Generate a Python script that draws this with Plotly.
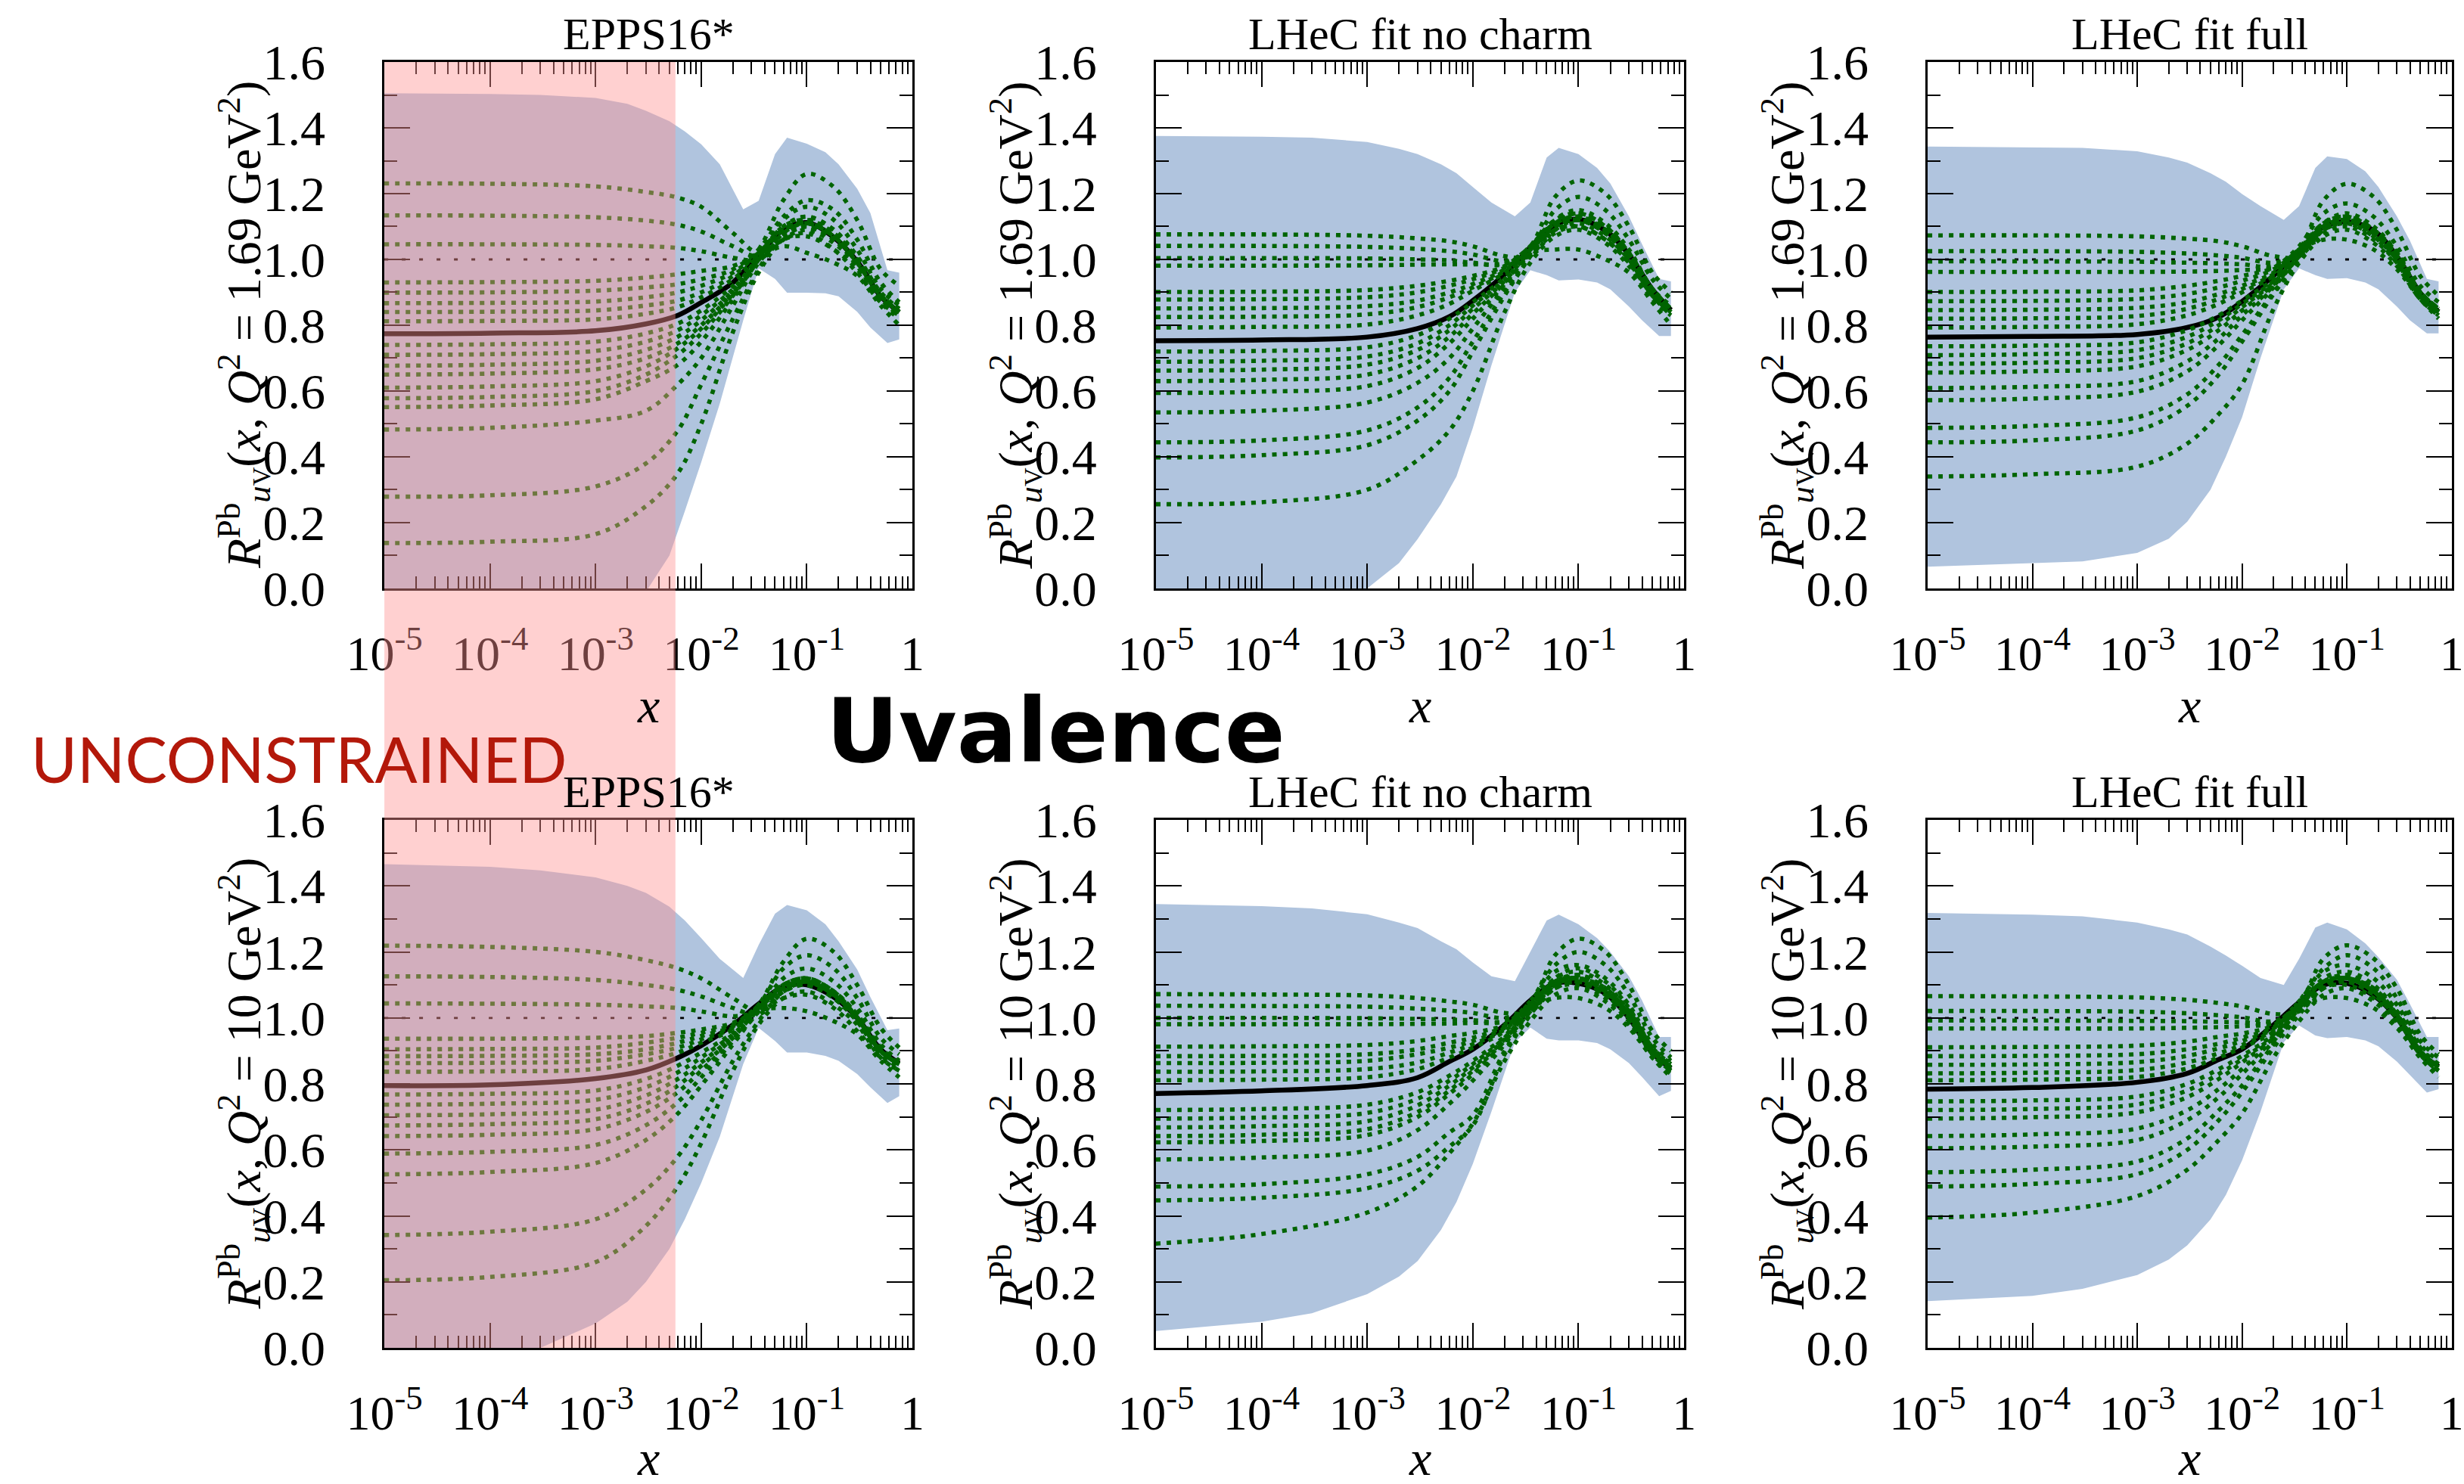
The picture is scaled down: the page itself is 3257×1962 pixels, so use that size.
import plotly.graph_objects as go

# ---------------- data ----------------
X = [1e-5, 1e-4, 1e-3, 3e-3, 6e-3, 1e-2, 2e-2, 3.5e-2, 6e-2, 0.1, 0.18, 0.3, 0.5, 0.75]
BX = [1e-5, 1e-4, 3e-4, 1e-3, 2e-3, 3e-3, 5e-3, 7e-3, 1e-2, 1.5e-2, 2.5e-2, 3.5e-2,
      5e-2, 6.5e-2, 0.1, 0.15, 0.2, 0.3, 0.4, 0.58, 0.75]
UNITY_X = [1e-5, 0.75]
UNITY_Y = [1.0, 1.0]
PINK_XMAX = 5.7e-3

XTICKS = [1e-5, 1e-4, 1e-3, 1e-2, 1e-1, 1]
XTICKTEXT = ["10<sup>-5</sup>", "10<sup>-4</sup>", "10<sup>-3</sup>",
             "10<sup>-2</sup>", "10<sup>-1</sup>", "1"]
YTICKS = [0.0, 0.2, 0.4, 0.6, 0.8, 1.0, 1.2, 1.4, 1.6]
YTICKTEXT = ["0.0", "0.2", "0.4", "0.6", "0.8", "1.0", "1.2", "1.4", "1.6"]

TITLES = ["EPPS16*", "LHeC fit no charm", "LHeC fit full"]
Q2_LABELS = ["1.69", "10"]

# --- top-left: EPPS16*, Q2 = 1.69 ---
TL_UP = [1.505, 1.503, 1.500, 1.491, 1.473, 1.452, 1.420, 1.389, 1.350, 1.289, 1.152, 1.178,
         1.320, 1.370, 1.352, 1.326, 1.289, 1.215, 1.141, 0.967, 0.960]
TL_LO = [-0.30, -0.30, -0.28, -0.20, -0.10, -0.01, 0.10, 0.235, 0.383, 0.562, 0.815, 0.973,
         0.941, 0.899, 0.899, 0.897, 0.888, 0.841, 0.793, 0.746, 0.757]
TL_C = [0.774, 0.776, 0.783, 0.804, 0.830, 0.869, 0.930, 1.015, 1.090, 1.112, 1.067, 0.994, 0.888, 0.840]
TL_G = [
    [1.231, 1.230, 1.222, 1.205, 1.188, 1.160, 1.080, 1.020, 1.070, 1.100, 1.060, 0.990, 0.890, 0.840],
    [1.134, 1.133, 1.128, 1.118, 1.105, 1.085, 1.040, 1.010, 1.080, 1.120, 1.080, 1.000, 0.890, 0.840],
    [1.046, 1.046, 1.044, 1.040, 1.035, 1.025, 1.005, 1.000, 1.060, 1.080, 1.030, 0.960, 0.870, 0.830],
    [0.930, 0.931, 0.935, 0.945, 0.955, 0.965, 0.980, 1.020, 1.100, 1.130, 1.090, 1.010, 0.900, 0.850],
    [0.899, 0.900, 0.905, 0.915, 0.925, 0.940, 0.970, 1.030, 1.130, 1.180, 1.150, 1.060, 0.930, 0.870],
    [0.867, 0.868, 0.872, 0.885, 0.900, 0.920, 0.960, 1.020, 1.090, 1.110, 1.070, 0.990, 0.890, 0.840],
    [0.840, 0.841, 0.845, 0.860, 0.875, 0.900, 0.950, 1.030, 1.180, 1.260, 1.220, 1.120, 0.970, 0.920],
    [0.812, 0.813, 0.818, 0.835, 0.855, 0.885, 0.940, 1.010, 1.080, 1.100, 1.060, 0.990, 0.880, 0.840],
    [0.740, 0.742, 0.750, 0.775, 0.805, 0.845, 0.920, 1.010, 1.090, 1.110, 1.070, 0.990, 0.890, 0.840],
    [0.710, 0.712, 0.722, 0.750, 0.785, 0.830, 0.910, 1.000, 1.040, 1.020, 0.990, 0.950, 0.860, 0.800],
    [0.677, 0.680, 0.692, 0.725, 0.765, 0.815, 0.905, 1.010, 1.100, 1.120, 1.080, 1.000, 0.890, 0.840],
    [0.650, 0.653, 0.666, 0.700, 0.745, 0.800, 0.900, 1.010, 1.100, 1.130, 1.090, 1.000, 0.890, 0.840],
    [0.610, 0.614, 0.630, 0.675, 0.730, 0.790, 0.895, 1.000, 1.080, 1.100, 1.060, 0.980, 0.880, 0.830],
    [0.578, 0.582, 0.600, 0.650, 0.710, 0.775, 0.890, 1.000, 1.120, 1.160, 1.120, 1.030, 0.910, 0.860],
    [0.551, 0.556, 0.575, 0.630, 0.680, 0.750, 0.880, 1.000, 1.090, 1.110, 1.070, 0.990, 0.890, 0.840],
    [0.483, 0.488, 0.510, 0.540, 0.620, 0.700, 0.860, 0.990, 1.060, 1.070, 1.030, 0.970, 0.870, 0.820],
    [0.279, 0.283, 0.310, 0.380, 0.480, 0.620, 0.820, 0.970, 1.080, 1.110, 1.070, 0.990, 0.890, 0.850],
    [0.138, 0.142, 0.165, 0.250, 0.350, 0.500, 0.780, 0.960, 1.060, 1.090, 1.050, 0.980, 0.880, 0.840],
]

# --- top-middle: LHeC no charm, Q2 = 1.69 ---
TM_UP = [1.375, 1.373, 1.370, 1.357, 1.336, 1.320, 1.289, 1.262, 1.220, 1.173, 1.131, 1.173,
         1.310, 1.339, 1.320, 1.278, 1.231, 1.131, 1.046, 0.941, 0.933]
TM_LO = [-0.30, -0.20, -0.10, 0.00, 0.077, 0.150, 0.256, 0.340, 0.488, 0.678, 0.900, 0.967,
         0.952, 0.936, 0.939, 0.930, 0.909, 0.857, 0.815, 0.767, 0.767]
TM_C = [0.753, 0.755, 0.764, 0.790, 0.826, 0.875, 0.955, 1.036, 1.105, 1.122, 1.088, 1.015, 0.909, 0.846]
TM_G = [
    [1.076, 1.076, 1.072, 1.064, 1.055, 1.040, 1.010, 1.010, 1.090, 1.120, 1.080, 1.010, 0.900, 0.840],
    [1.041, 1.041, 1.038, 1.032, 1.025, 1.015, 0.995, 1.020, 1.110, 1.140, 1.100, 1.020, 0.910, 0.850],
    [1.004, 1.004, 1.003, 1.000, 0.997, 0.990, 0.985, 1.030, 1.100, 1.120, 1.080, 1.010, 0.900, 0.850],
    [0.981, 0.981, 0.982, 0.984, 0.985, 0.985, 0.990, 1.040, 1.190, 1.240, 1.200, 1.100, 0.960, 0.900],
    [0.901, 0.902, 0.907, 0.920, 0.935, 0.950, 0.980, 1.040, 1.120, 1.140, 1.100, 1.020, 0.910, 0.850],
    [0.878, 0.879, 0.885, 0.900, 0.920, 0.940, 0.975, 1.030, 1.150, 1.190, 1.150, 1.060, 0.940, 0.880],
    [0.851, 0.852, 0.858, 0.875, 0.900, 0.925, 0.970, 1.040, 1.110, 1.130, 1.090, 1.020, 0.910, 0.850],
    [0.825, 0.826, 0.833, 0.855, 0.885, 0.915, 0.965, 1.040, 1.110, 1.120, 1.090, 1.010, 0.900, 0.850],
    [0.793, 0.795, 0.802, 0.830, 0.865, 0.905, 0.960, 1.030, 1.090, 1.100, 1.060, 0.990, 0.890, 0.830],
    [0.720, 0.722, 0.733, 0.770, 0.820, 0.870, 0.945, 1.030, 1.110, 1.130, 1.090, 1.010, 0.900, 0.850],
    [0.689, 0.692, 0.705, 0.745, 0.800, 0.860, 0.940, 1.020, 1.030, 1.030, 1.000, 0.960, 0.870, 0.800],
    [0.662, 0.665, 0.680, 0.725, 0.785, 0.850, 0.935, 1.030, 1.110, 1.130, 1.090, 1.010, 0.900, 0.850],
    [0.630, 0.634, 0.650, 0.700, 0.765, 0.835, 0.930, 1.030, 1.100, 1.120, 1.080, 1.000, 0.900, 0.840],
    [0.594, 0.598, 0.615, 0.670, 0.745, 0.820, 0.925, 1.020, 1.090, 1.110, 1.070, 1.000, 0.890, 0.840],
    [0.535, 0.540, 0.565, 0.625, 0.700, 0.790, 0.915, 1.020, 1.100, 1.120, 1.080, 1.000, 0.900, 0.850],
    [0.444, 0.450, 0.480, 0.550, 0.640, 0.750, 0.900, 1.010, 1.080, 1.100, 1.060, 0.990, 0.890, 0.840],
    [0.398, 0.405, 0.435, 0.510, 0.600, 0.720, 0.890, 1.010, 1.120, 1.150, 1.110, 1.030, 0.910, 0.860],
    [0.256, 0.262, 0.300, 0.390, 0.480, 0.600, 0.840, 0.990, 1.070, 1.090, 1.050, 0.980, 0.880, 0.830],
]

# --- top-right: LHeC full, Q2 = 1.69 ---
TR_UP = [1.343, 1.341, 1.339, 1.329, 1.310, 1.294, 1.262, 1.236, 1.199, 1.162, 1.120, 1.162,
         1.278, 1.313, 1.305, 1.268, 1.220, 1.131, 1.057, 0.941, 0.933]
TR_LO = [0.066, 0.077, 0.082, 0.108, 0.151, 0.203, 0.300, 0.400, 0.520, 0.700, 0.909, 0.973,
         0.952, 0.941, 0.943, 0.930, 0.909, 0.857, 0.815, 0.775, 0.775]
TR_C = [0.764, 0.766, 0.772, 0.793, 0.825, 0.872, 0.951, 1.025, 1.099, 1.115, 1.088, 1.010, 0.899, 0.841]
TR_G = [
    [1.073, 1.073, 1.070, 1.063, 1.055, 1.040, 1.010, 1.010, 1.090, 1.120, 1.080, 1.010, 0.900, 0.840],
    [1.025, 1.025, 1.023, 1.018, 1.012, 1.005, 0.990, 1.020, 1.100, 1.130, 1.090, 1.020, 0.900, 0.850],
    [0.994, 0.994, 0.993, 0.990, 0.988, 0.985, 0.980, 1.030, 1.180, 1.230, 1.190, 1.090, 0.950, 0.890],
    [0.962, 0.962, 0.962, 0.963, 0.965, 0.968, 0.975, 1.030, 1.110, 1.130, 1.090, 1.010, 0.900, 0.850],
    [0.901, 0.902, 0.906, 0.920, 0.935, 0.950, 0.975, 1.040, 1.140, 1.170, 1.130, 1.040, 0.920, 0.870],
    [0.873, 0.874, 0.880, 0.895, 0.915, 0.935, 0.970, 1.030, 1.100, 1.120, 1.080, 1.010, 0.900, 0.850],
    [0.846, 0.847, 0.853, 0.870, 0.895, 0.920, 0.960, 1.030, 1.110, 1.130, 1.090, 1.010, 0.900, 0.850],
    [0.820, 0.821, 0.828, 0.850, 0.880, 0.910, 0.955, 1.030, 1.060, 1.060, 1.030, 0.970, 0.880, 0.820],
    [0.793, 0.795, 0.803, 0.830, 0.865, 0.900, 0.950, 1.020, 1.100, 1.120, 1.080, 1.000, 0.890, 0.840],
    [0.736, 0.738, 0.748, 0.785, 0.830, 0.875, 0.940, 1.020, 1.100, 1.120, 1.080, 1.000, 0.890, 0.840],
    [0.709, 0.712, 0.724, 0.765, 0.815, 0.865, 0.935, 1.020, 1.110, 1.130, 1.090, 1.010, 0.900, 0.850],
    [0.683, 0.686, 0.700, 0.745, 0.800, 0.855, 0.930, 1.010, 1.090, 1.110, 1.070, 1.000, 0.890, 0.840],
    [0.656, 0.660, 0.675, 0.725, 0.785, 0.845, 0.925, 1.010, 1.090, 1.110, 1.070, 0.990, 0.890, 0.840],
    [0.609, 0.613, 0.630, 0.690, 0.760, 0.830, 0.920, 1.010, 1.100, 1.120, 1.080, 1.000, 0.890, 0.840],
    [0.572, 0.577, 0.598, 0.660, 0.740, 0.815, 0.915, 1.010, 1.090, 1.110, 1.070, 1.000, 0.890, 0.840],
    [0.488, 0.494, 0.520, 0.590, 0.680, 0.770, 0.900, 1.000, 1.080, 1.100, 1.060, 0.990, 0.880, 0.830],
    [0.444, 0.450, 0.480, 0.555, 0.650, 0.750, 0.895, 1.000, 1.110, 1.140, 1.100, 1.020, 0.900, 0.850],
    [0.340, 0.347, 0.370, 0.440, 0.530, 0.620, 0.850, 0.990, 1.070, 1.090, 1.050, 0.980, 0.880, 0.830],
]

# --- bottom-left: EPPS16*, Q2 = 10 ---
BL_UP = [1.466, 1.458, 1.447, 1.426, 1.400, 1.379, 1.337, 1.295, 1.242, 1.179, 1.121, 1.221,
         1.316, 1.342, 1.326, 1.284, 1.232, 1.147, 1.063, 0.963, 0.968]
BL_LO = [-0.30, -0.10, 0.00, 0.074, 0.140, 0.200, 0.300, 0.390, 0.500, 0.640, 0.860, 0.970,
         0.930, 0.895, 0.895, 0.885, 0.870, 0.830, 0.790, 0.742, 0.763]
BL_C = [0.795, 0.797, 0.816, 0.842, 0.879, 0.916, 0.979, 1.042, 1.095, 1.100, 1.063, 1.000, 0.905, 0.863]
BL_G = [
    [1.219, 1.215, 1.200, 1.175, 1.150, 1.120, 1.060, 1.020, 1.080, 1.100, 1.060, 0.990, 0.900, 0.860],
    [1.126, 1.124, 1.115, 1.100, 1.085, 1.065, 1.030, 1.010, 1.080, 1.110, 1.070, 1.000, 0.900, 0.860],
    [1.044, 1.043, 1.040, 1.035, 1.030, 1.020, 1.005, 1.020, 1.060, 1.070, 1.030, 0.960, 0.880, 0.840],
    [0.937, 0.937, 0.940, 0.945, 0.955, 0.965, 0.985, 1.030, 1.100, 1.120, 1.080, 1.010, 0.910, 0.870],
    [0.905, 0.906, 0.910, 0.925, 0.940, 0.955, 0.980, 1.040, 1.150, 1.190, 1.150, 1.060, 0.940, 0.890],
    [0.884, 0.885, 0.890, 0.905, 0.925, 0.945, 0.975, 1.030, 1.090, 1.110, 1.070, 1.000, 0.900, 0.860],
    [0.863, 0.864, 0.870, 0.890, 0.910, 0.935, 0.970, 1.040, 1.170, 1.240, 1.200, 1.100, 0.970, 0.910],
    [0.837, 0.838, 0.845, 0.870, 0.895, 0.925, 0.965, 1.030, 1.100, 1.110, 1.070, 1.000, 0.900, 0.860],
    [0.768, 0.770, 0.780, 0.815, 0.855, 0.895, 0.955, 1.030, 1.090, 1.110, 1.070, 1.000, 0.900, 0.860],
    [0.737, 0.740, 0.752, 0.790, 0.835, 0.880, 0.950, 1.020, 1.030, 1.020, 0.990, 0.950, 0.870, 0.820],
    [0.705, 0.708, 0.722, 0.765, 0.815, 0.865, 0.945, 1.030, 1.100, 1.120, 1.080, 1.000, 0.900, 0.860],
    [0.674, 0.678, 0.693, 0.740, 0.795, 0.855, 0.940, 1.030, 1.100, 1.120, 1.080, 1.010, 0.910, 0.860],
    [0.642, 0.646, 0.663, 0.715, 0.775, 0.840, 0.935, 1.020, 1.090, 1.100, 1.060, 0.990, 0.890, 0.850],
    [0.589, 0.594, 0.615, 0.675, 0.745, 0.820, 0.930, 1.020, 1.120, 1.150, 1.110, 1.030, 0.920, 0.870],
    [0.526, 0.533, 0.560, 0.630, 0.710, 0.795, 0.920, 1.020, 1.090, 1.110, 1.070, 1.000, 0.900, 0.860],
    [0.342, 0.352, 0.390, 0.480, 0.580, 0.690, 0.870, 0.990, 1.080, 1.100, 1.060, 0.990, 0.890, 0.850],
    [0.205, 0.215, 0.260, 0.370, 0.490, 0.620, 0.840, 0.980, 1.060, 1.080, 1.040, 0.980, 0.880, 0.840],
]

# --- bottom-middle: LHeC no charm, Q2 = 10 ---
BM_UP = [1.345, 1.339, 1.332, 1.314, 1.289, 1.272, 1.232, 1.208, 1.168, 1.126, 1.111, 1.200,
         1.295, 1.313, 1.284, 1.242, 1.200, 1.126, 1.053, 0.942, 0.942]
BM_LO = [0.051, 0.079, 0.105, 0.163, 0.216, 0.263, 0.358, 0.442, 0.558, 0.716, 0.926, 0.971,
         0.937, 0.932, 0.932, 0.924, 0.905, 0.863, 0.821, 0.763, 0.779]
BM_C = [0.771, 0.779, 0.795, 0.819, 0.868, 0.905, 0.979, 1.053, 1.105, 1.105, 1.074, 1.000, 0.895, 0.847]
BM_G = [
    [1.072, 1.071, 1.068, 1.060, 1.050, 1.040, 1.015, 1.020, 1.090, 1.110, 1.080, 1.010, 0.900, 0.850],
    [1.037, 1.036, 1.034, 1.028, 1.022, 1.015, 1.000, 1.030, 1.100, 1.130, 1.090, 1.020, 0.910, 0.860],
    [1.000, 1.000, 0.999, 0.997, 0.995, 0.993, 0.990, 1.040, 1.190, 1.240, 1.200, 1.100, 0.960, 0.900],
    [0.981, 0.981, 0.981, 0.982, 0.983, 0.985, 0.990, 1.040, 1.110, 1.130, 1.090, 1.020, 0.910, 0.850],
    [0.913, 0.914, 0.918, 0.930, 0.945, 0.955, 0.980, 1.050, 1.140, 1.160, 1.120, 1.040, 0.920, 0.870],
    [0.884, 0.885, 0.890, 0.905, 0.925, 0.940, 0.975, 1.040, 1.110, 1.120, 1.090, 1.010, 0.900, 0.850],
    [0.863, 0.864, 0.870, 0.890, 0.910, 0.930, 0.970, 1.050, 1.160, 1.200, 1.160, 1.070, 0.940, 0.880],
    [0.837, 0.838, 0.845, 0.865, 0.895, 0.920, 0.965, 1.040, 1.110, 1.120, 1.080, 1.010, 0.900, 0.850],
    [0.811, 0.813, 0.820, 0.845, 0.880, 0.910, 0.960, 1.040, 1.110, 1.120, 1.080, 1.000, 0.890, 0.840],
    [0.721, 0.724, 0.737, 0.775, 0.825, 0.870, 0.945, 1.030, 1.060, 1.060, 1.030, 0.970, 0.880, 0.820],
    [0.695, 0.698, 0.712, 0.755, 0.810, 0.860, 0.940, 1.030, 1.110, 1.120, 1.080, 1.010, 0.900, 0.850],
    [0.668, 0.672, 0.687, 0.735, 0.795, 0.850, 0.935, 1.030, 1.100, 1.120, 1.080, 1.000, 0.890, 0.840],
    [0.642, 0.646, 0.663, 0.715, 0.780, 0.840, 0.930, 1.020, 1.100, 1.110, 1.070, 1.000, 0.890, 0.840],
    [0.623, 0.627, 0.645, 0.700, 0.770, 0.830, 0.930, 1.030, 1.120, 1.140, 1.100, 1.020, 0.900, 0.850],
    [0.571, 0.577, 0.598, 0.660, 0.740, 0.810, 0.920, 1.020, 1.100, 1.110, 1.070, 1.000, 0.890, 0.840],
    [0.489, 0.496, 0.526, 0.579, 0.653, 0.705, 0.900, 1.010, 1.090, 1.100, 1.060, 0.990, 0.890, 0.840],
    [0.447, 0.455, 0.484, 0.537, 0.610, 0.674, 0.890, 1.010, 1.120, 1.150, 1.110, 1.030, 0.910, 0.860],
    [0.316, 0.345, 0.410, 0.490, 0.590, 0.680, 0.870, 0.990, 1.070, 1.090, 1.050, 0.980, 0.880, 0.830],
]

# --- bottom-right: LHeC full, Q2 = 10 ---
BR_UP = [1.318, 1.313, 1.308, 1.289, 1.268, 1.253, 1.216, 1.189, 1.158, 1.121, 1.100, 1.179,
         1.274, 1.289, 1.268, 1.226, 1.184, 1.116, 1.042, 0.942, 0.942]
BR_LO = [0.142, 0.158, 0.179, 0.221, 0.268, 0.311, 0.389, 0.463, 0.568, 0.716, 0.926, 0.977,
         0.947, 0.939, 0.942, 0.932, 0.914, 0.868, 0.826, 0.774, 0.784]
BR_C = [0.784, 0.789, 0.805, 0.832, 0.874, 0.905, 0.979, 1.047, 1.100, 1.105, 1.068, 1.000, 0.895, 0.853]
BR_G = [
    [1.066, 1.065, 1.062, 1.055, 1.045, 1.035, 1.012, 1.020, 1.090, 1.110, 1.080, 1.010, 0.900, 0.850],
    [1.021, 1.021, 1.019, 1.014, 1.008, 1.002, 0.990, 1.030, 1.100, 1.130, 1.090, 1.020, 0.910, 0.860],
    [0.992, 0.992, 0.991, 0.990, 0.988, 0.987, 0.985, 1.040, 1.180, 1.220, 1.180, 1.090, 0.950, 0.890],
    [0.968, 0.968, 0.968, 0.970, 0.972, 0.975, 0.985, 1.040, 1.110, 1.130, 1.090, 1.020, 0.910, 0.850],
    [0.911, 0.912, 0.916, 0.928, 0.943, 0.953, 0.978, 1.050, 1.140, 1.160, 1.120, 1.040, 0.920, 0.870],
    [0.884, 0.885, 0.890, 0.905, 0.922, 0.940, 0.972, 1.040, 1.110, 1.120, 1.090, 1.010, 0.900, 0.850],
    [0.858, 0.859, 0.866, 0.885, 0.908, 0.930, 0.968, 1.050, 1.150, 1.190, 1.150, 1.060, 0.930, 0.880],
    [0.832, 0.834, 0.842, 0.865, 0.893, 0.918, 0.963, 1.040, 1.110, 1.120, 1.080, 1.010, 0.900, 0.850],
    [0.811, 0.813, 0.821, 0.847, 0.880, 0.910, 0.958, 1.040, 1.110, 1.120, 1.080, 1.000, 0.890, 0.840],
    [0.747, 0.750, 0.762, 0.800, 0.845, 0.885, 0.950, 1.030, 1.060, 1.060, 1.030, 0.970, 0.880, 0.820],
    [0.721, 0.724, 0.738, 0.780, 0.830, 0.875, 0.945, 1.030, 1.110, 1.120, 1.080, 1.010, 0.900, 0.850],
    [0.695, 0.699, 0.714, 0.760, 0.815, 0.865, 0.940, 1.030, 1.100, 1.120, 1.080, 1.000, 0.890, 0.840],
    [0.642, 0.647, 0.665, 0.720, 0.785, 0.845, 0.935, 1.020, 1.100, 1.110, 1.070, 1.000, 0.890, 0.840],
    [0.605, 0.610, 0.630, 0.690, 0.760, 0.830, 0.930, 1.030, 1.120, 1.140, 1.100, 1.020, 0.900, 0.850],
    [0.532, 0.540, 0.565, 0.635, 0.720, 0.795, 0.920, 1.020, 1.100, 1.110, 1.070, 1.000, 0.890, 0.840],
    [0.489, 0.497, 0.527, 0.600, 0.690, 0.775, 0.910, 1.010, 1.090, 1.100, 1.060, 0.990, 0.890, 0.840],
    [0.395, 0.410, 0.460, 0.540, 0.630, 0.710, 0.880, 0.990, 1.070, 1.090, 1.050, 0.980, 0.880, 0.830],
]

# ---------------- styling ----------------
SERIF = "Liberation Serif"
BAND = "#b0c4de"
GREEN = "#006400"
PINK = "rgba(255,146,146,0.43)"

COLS = [(0.1560, 0.3703), (0.4691, 0.6835), (0.7823, 0.9950)]
ROWS = [(0.6035, 0.9582), (0.0917, 0.4475)]
XLABEL_SHIFT = [-155, -145]

PANELS = [
    (0, 0, TL_UP, TL_LO, TL_C, TL_G), (0, 1, TM_UP, TM_LO, TM_C, TM_G), (0, 2, TR_UP, TR_LO, TR_C, TR_G),
    (1, 0, BL_UP, BL_LO, BL_C, BL_G), (1, 1, BM_UP, BM_LO, BM_C, BM_G), (1, 2, BR_UP, BR_LO, BR_C, BR_G),
]

fig = go.Figure()
layout = {}
annotations = []

for idx, (r, c, up, lo, cen, greens) in enumerate(PANELS):
    n = idx + 1
    xa = "x" if n == 1 else f"x{n}"
    ya = "y" if n == 1 else f"y{n}"
    xkey = "xaxis" if n == 1 else f"xaxis{n}"
    ykey = "yaxis" if n == 1 else f"yaxis{n}"

    fig.add_trace(go.Scatter(x=BX + BX[::-1], y=up + lo[::-1], fill="toself", fillcolor=BAND,
                             line=dict(width=0, color=BAND), mode="lines", xaxis=xa, yaxis=ya,
                             hoverinfo="skip"))
    fig.add_trace(go.Scatter(x=UNITY_X, y=UNITY_Y, mode="lines",
                             line=dict(color="black", width=2.8, dash="5px,18px"),
                             xaxis=xa, yaxis=ya, hoverinfo="skip"))
    fig.add_trace(go.Scatter(x=X, y=cen, mode="lines", line=dict(color="black", width=6.5, shape="spline"),
                             xaxis=xa, yaxis=ya, hoverinfo="skip"))
    for g in greens:
        fig.add_trace(go.Scatter(x=X, y=g, mode="lines",
                                 line=dict(color=GREEN, width=5.6, dash="6px,8px", shape="spline"),
                                 xaxis=xa, yaxis=ya, hoverinfo="skip"))

    layout[xkey] = dict(
        type="log", range=[-5, 0], domain=list(COLS[c]), anchor=ya, automargin=False,
        tickmode="array", tickvals=XTICKS, ticktext=XTICKTEXT, ticklabeloverflow="allow",
        ticks="inside", ticklen=33, tickwidth=2.2, tickcolor="black",
        minor=dict(ticks="inside", ticklen=16, tickwidth=2, tickcolor="black", dtick="D1", showgrid=False),
        showline=True, linewidth=2.6, linecolor="black", mirror="allticks",
        showgrid=False, zeroline=False, ticklabelstandoff=28,
        tickfont=dict(family=SERIF, size=64, color="black"),
    )
    layout[ykey] = dict(
        range=[0, 1.6], domain=list(ROWS[r]), anchor=xa, automargin=False,
        tickmode="array", tickvals=YTICKS, ticktext=YTICKTEXT,
        ticks="inside", ticklen=34, tickwidth=2.2, tickcolor="black",
        minor=dict(ticks="inside", ticklen=17, tickwidth=2, tickcolor="black", dtick=0.1, showgrid=False),
        showline=True, linewidth=2.6, linecolor="black", mirror="allticks",
        showgrid=False, zeroline=False, ticklabelstandoff=62,
        tickfont=dict(family=SERIF, size=66, color="black"),
    )

    cx = (COLS[c][0] + COLS[c][1]) / 2
    annotations.append(dict(text=TITLES[c], x=cx, y=ROWS[r][1], xref="paper", yref="paper",
                            xanchor="center", yanchor="bottom", showarrow=False, yshift=2,
                            font=dict(family=SERIF, size=60, color="black")))
    annotations.append(dict(text="<i>x</i>", x=cx, y=ROWS[r][0], xref="paper", yref="paper",
                            xanchor="center", yanchor="middle", showarrow=False,
                            yshift=XLABEL_SHIFT[r],
                            font=dict(family=SERIF, size=66, color="black")))
    ytitle = ("<i>R</i><sup>Pb</sup><sub><i>u</i><span style='font-size:34px'>V</span></sub>"
              "(<i>x</i>, <i>Q</i><sup>2</sup> = " + Q2_LABELS[r] + " GeV<sup>2</sup>)")
    annotations.append(dict(text=ytitle, x=COLS[c][0], y=(ROWS[r][0] + ROWS[r][1]) / 2,
                            xref="paper", yref="paper", xanchor="center", yanchor="middle",
                            xshift=-186, textangle=-90, showarrow=False,
                            font=dict(family=SERIF, size=64, color="black")))

annotations.append(dict(text="<b>Uvalence</b>", x=0.4286, y=0.5076, xref="paper", yref="paper",
                        xanchor="center", yanchor="middle", showarrow=False,
                        font=dict(family="DejaVu Sans", size=118, color="black")))
annotations.append(dict(text="UNCONSTRAINED", x=0.1213, y=0.4888, xref="paper", yref="paper",
                        xanchor="center", yanchor="middle", showarrow=False,
                        font=dict(family="Lato", size=83, color="#b3180a")))

shapes = [dict(type="rect", xref="x", yref="paper", x0=XTICKS[0], x1=PINK_XMAX,
               y0=ROWS[1][0], y1=ROWS[0][1], fillcolor=PINK, line=dict(width=0), layer="above")]

fig.update_layout(**layout)
fig.update_layout(width=3257, height=1962, autosize=False, margin=dict(l=0, r=0, t=0, b=0),
                  paper_bgcolor="white", plot_bgcolor="white", showlegend=False,
                  annotations=annotations, shapes=shapes)

fig.write_html("out.html")
